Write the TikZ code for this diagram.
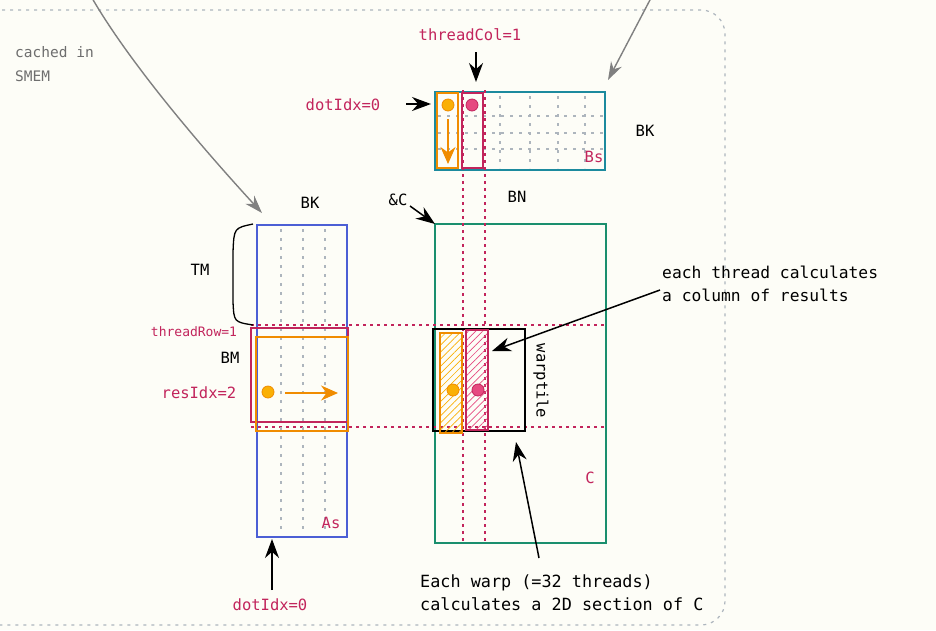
\documentclass[tikz,border=0pt]{standalone}
\usepackage{fontspec}
\setmonofont{DejaVu Sans Mono}
\usetikzlibrary{arrows.meta,patterns.meta}
\definecolor{bg}{HTML}{FDFDF7}
\definecolor{crim}{HTML}{C2255C}
\definecolor{orng}{HTML}{F08C00}
\definecolor{yel}{HTML}{FAB005}
\definecolor{pnk}{HTML}{E64980}
\definecolor{tealb}{HTML}{1C8A9E}
\definecolor{greenc}{HTML}{1A8F6E}
\definecolor{bluea}{HTML}{4C5FD5}
\definecolor{gline}{HTML}{ADB5BD}
\definecolor{gtext}{HTML}{6E6E6E}
\tikzset{
  lbl/.style={font=\ttfamily\fontsize{15.5}{18}\selectfont, inner sep=0pt},
  crl/.style={lbl, text=crim},
  note/.style={font=\ttfamily\fontsize{16.3}{23}\selectfont, inner sep=0pt, align=left, anchor=west},
  mat/.style={draw, line width=1.3pt, minimum width=#1, inner sep=0pt, outer sep=0pt, anchor=north west},
  box/.style={draw, inner sep=0pt, outer sep=0pt, anchor=north west},
  griddash/.style={gline, line width=1.2pt, dash pattern=on 3pt off 6pt},
  crdot/.style={crim, line width=1.6pt, dash pattern=on 2.5pt off 4.5pt},
  blk/.style={black, line width=1.5pt, -{Stealth[length=19pt,width=14pt]}},
  garr/.style={gray, line width=1.4pt, -{Stealth[length=18pt,width=12pt]}},
  oarr/.style={orng, line width=1.5pt, -{Stealth[length=17pt,width=15pt]}},
  odot/.style={circle, fill=yel, draw=orng, line width=0.8pt, minimum size=12pt, inner sep=0pt},
  pdot/.style={circle, fill=pnk, draw=crim, line width=0.8pt, minimum size=12pt, inner sep=0pt},
}
\begin{document}
\begin{tikzpicture}[x=1pt,y=-1pt]
\useasboundingbox (0,0) rectangle (936,630);
\fill[bg] (0,0) rectangle (936,630);
% outer dashed border
\draw[gline, line width=1.2pt, dash pattern=on 3pt off 5pt, rounded corners=24pt]
  (-30,10) -- (725,10) -- (725,625) -- (-30,625);

% ---------- Bs ----------
\node[mat=170pt, minimum height=78pt, draw=tealb] (Bs) at (435,92) {};
\foreach \x in {500,530,558,585} \draw[griddash] (\x,96) -- (\x,168);
\foreach \y in {116,133,149} \draw[griddash] (438,\y) -- (603,\y);
\node[box, draw=orng, line width=1.3pt, minimum width=21pt, minimum height=75pt] (bsO) at (437,93) {};
\node[box, draw=crim, line width=1.3pt, minimum width=21pt, minimum height=75pt] (bsP) at (462,93) {};
\node[odot] (bsOd) at (448,105) {};
\node[pdot] (bsPd) at (472,105) {};
\coordinate (bsOa) at (448,119);
\coordinate (bsOb) at (448,164);
\draw[oarr] (bsOa) -- (bsOb);
\node[crl] (bslbl) at (594,157) {Bs};
\node[lbl] (bk1) at (645,131) {BK};

% ---------- C ----------
\node[mat=171pt, minimum height=319pt, draw=greenc] (C) at (435,224) {};
\node[crl] (clbl) at (590,478) {C};
% crimson dotted guides
\draw[crdot] (463,90) -- (463,543);
\draw[crdot] (485,90) -- (485,543);
\draw[crdot] (251,325) -- (606,325);
\draw[crdot] (251,427) -- (606,427);
% warptile
\node[box, draw=black, line width=1.3pt, minimum width=92pt, minimum height=102pt] (wt) at (433,329) {};
\node[box, draw=orng, line width=1.3pt, minimum width=22pt, minimum height=100pt,
  pattern={Lines[angle=45,distance=5pt,line width=0.7pt]}, pattern color=yel] (wtO) at (440,333) {};
\node[box, draw=crim, line width=1.3pt, minimum width=22pt, minimum height=100pt,
  pattern={Lines[angle=45,distance=5pt,line width=0.7pt]}, pattern color=pnk] (wtP) at (466,330) {};
\node[odot] (wtOd) at (453,390) {};
\node[pdot] (wtPd) at (478,390) {};
\node[lbl, rotate=-90] (wtl) at (541,381) {warptile};

% ---------- As ----------
\node[mat=90pt, minimum height=312pt, draw=bluea] (As) at (257,225) {};
\foreach \x in {281,303,325} \draw[griddash] (\x,229) -- (\x,532);
\node[box, draw=crim, line width=1.3pt, minimum width=97pt, minimum height=94pt] (asP) at (251,328) {};
\node[box, draw=orng, line width=1.3pt, minimum width=92pt, minimum height=94pt] (asO) at (256,337) {};
\node[odot] (asOd) at (268,392) {};
\coordinate (asOa) at (285,393);
\coordinate (asOb) at (338,393);
\draw[oarr] (asOa) -- (asOb);
\node[crl] (aslbl) at (331,523) {As};
\node[lbl] (bk2) at (310,203) {BK};
\node[lbl] (tm) at (200,270) {TM};
\node[lbl] (bm) at (230,358) {BM};
\node[crl, font=\ttfamily\fontsize{13}{15}\selectfont] (trow) at (194,332) {threadRow=1};
\node[crl] (ridx) at (199,393) {resIdx=2};
\draw[black, line width=1.3pt] (253,224) .. controls (234,228) .. (233,252) -- (233,302) .. controls (234,322) .. (253,325);

% ---------- labels & arrows ----------
\node[crl] (tcol) at (470,35) {threadCol=1};
\coordinate (tcolA) at (476,52);
\coordinate (tcolB) at (476,82);
\draw[blk] (tcolA) -- (tcolB);
\node[crl] (didx1) at (343,105) {dotIdx=0};
\coordinate (didx1A) at (406,104);
\coordinate (didx1B) at (431,104);
\draw[blk] (didx1A) -- (didx1B);
\node[lbl] (bn) at (517,197) {BN};
\node[lbl] (amp) at (398,200) {\&C};
\coordinate (ampA) at (410,206);
\draw[blk] (ampA) -- (C.north west);
\node[crl] (didx2) at (270,605) {dotIdx=0};
\coordinate (didx2A) at (272,590);
\coordinate (didx2B) at (272,539);
\draw[blk] (didx2A) -- (didx2B);

\node[font=\ttfamily\fontsize{14.5}{24}\selectfont, text=gtext, align=left, anchor=north west, inner sep=0pt] (cached) at (15,46) {cached in\\SMEM};
\coordinate (topA) at (92,-2);
\coordinate (topAe) at (262,213);
\draw[garr] (topA) .. controls (128,60) and (195,140) .. (topAe);
\coordinate (topB) at (651,-2);
\coordinate (topBe) at (608,80);
\draw[garr] (topB) -- (topBe);

\node[note] (n1) at (662,284) {each thread calculates\\a column of results};
\coordinate (n1a) at (660,290);
\coordinate (n1b) at (492,351);
\draw[blk] (n1a) -- (n1b);
\node[note, font=\ttfamily\fontsize{16.8}{23}\selectfont] (n2) at (420,593) {Each warp (=32 threads)\\calculates a 2D section of C};
\coordinate (n2a) at (539,558);
\coordinate (n2b) at (516,442);
\draw[blk] (n2a) -- (n2b);
\end{tikzpicture}
\end{document}
